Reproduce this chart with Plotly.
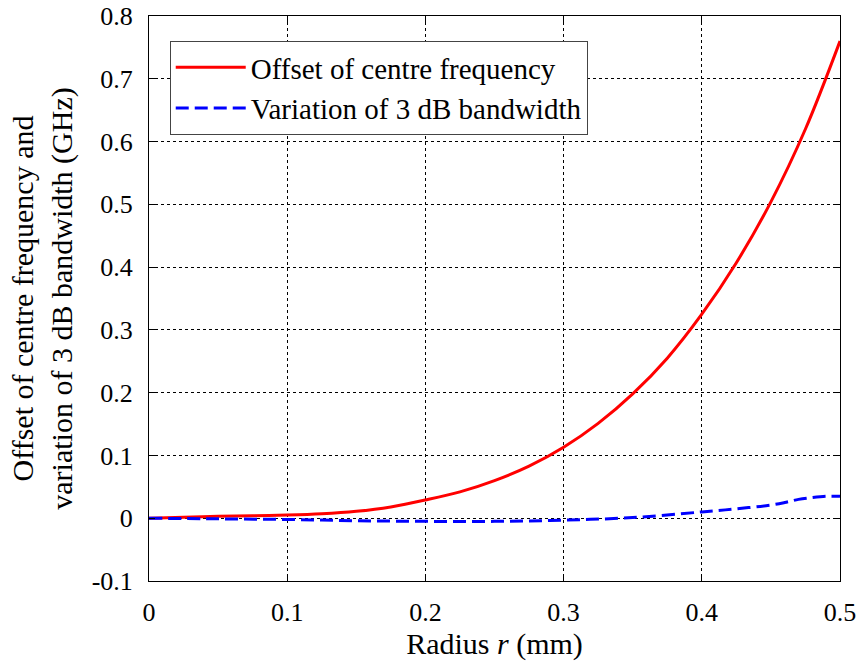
import plotly.graph_objects as go

radius_red = [0, 0.025, 0.05, 0.075, 0.1, 0.125, 0.15, 0.175, 0.2, 0.225, 0.25,
              0.275, 0.3, 0.325, 0.35, 0.375, 0.4, 0.425, 0.45, 0.475, 0.5]
offset_centre = [0, 0.0015, 0.003, 0.004, 0.005, 0.007, 0.011, 0.018, 0.029, 0.042, 0.060,
                 0.083, 0.113, 0.151, 0.198, 0.255, 0.325, 0.407, 0.504, 0.62, 0.76]

radius_blue = [0, 0.05, 0.1, 0.15, 0.2, 0.25, 0.3, 0.35, 0.4, 0.425, 0.45, 0.46, 0.47, 0.48, 0.49, 0.5]
var_bw = [0, -0.001, -0.002, -0.004, -0.005, -0.005, -0.003, 0.001, 0.010, 0.015, 0.021,
          0.025, 0.030, 0.033, 0.035, 0.035]

x_ticks = [0, 0.1, 0.2, 0.3, 0.4, 0.5]
x_ticktext = ["0", "0.1", "0.2", "0.3", "0.4", "0.5"]
y_ticks = [-0.1, 0, 0.1, 0.2, 0.3, 0.4, 0.5, 0.6, 0.7, 0.8]
y_ticktext = ["-0.1", "0", "0.1", "0.2", "0.3", "0.4", "0.5", "0.6", "0.7", "0.8"]

font = "Liberation Serif"

fig = go.Figure()
fig.add_trace(go.Scatter(x=radius_red, y=offset_centre, mode="lines",
                         line=dict(color="#ff0000", width=3, shape="spline", smoothing=1),
                         name="Offset of centre frequency"))
fig.add_trace(go.Scatter(x=radius_blue, y=var_bw, mode="lines",
                         line=dict(color="#0000ff", width=3, dash="13px,6px", shape="spline", smoothing=1),
                         name="Variation of 3 dB bandwidth"))

axis_common = dict(showline=True, linecolor="black", linewidth=1, mirror="ticks",
                   ticks="inside", ticklen=6, tickcolor="black",
                   showgrid=True, gridcolor="black", gridwidth=1, griddash="3px,3px",
                   zeroline=False, automargin=False,
                   tickfont=dict(family=font, size=26, color="black"))

fig.update_xaxes(range=[0, 0.5], tickvals=x_ticks, ticktext=x_ticktext,
                 ticklabelstandoff=8,
                 title=dict(text="Radius <i>r</i> (mm)", font=dict(family=font, size=30, color="black"),
                            standoff=4),
                 **axis_common)
fig.update_yaxes(range=[-0.1, 0.8], tickvals=y_ticks, ticktext=y_ticktext,
                 ticklabelstandoff=10,
                 title=dict(text="Offset of centre frequency and<br>variation of 3 dB bandwidth (GHz)",
                            font=dict(family=font, size=30, color="black"), standoff=10),
                 **axis_common)

fig.update_layout(
    width=859, height=664,
    margin=dict(l=149, r=19, t=16, b=83),
    plot_bgcolor="white", paper_bgcolor="white",
    font=dict(family=font, color="black"),
    legend=dict(x=0.03, y=0.956, xanchor="left", yanchor="top",
                bordercolor="#444444", borderwidth=1, bgcolor="white",
                font=dict(family=font, size=29, color="black"),
                itemwidth=70, tracegroupgap=0),
    showlegend=True,
)

fig.write_html("out.html")
